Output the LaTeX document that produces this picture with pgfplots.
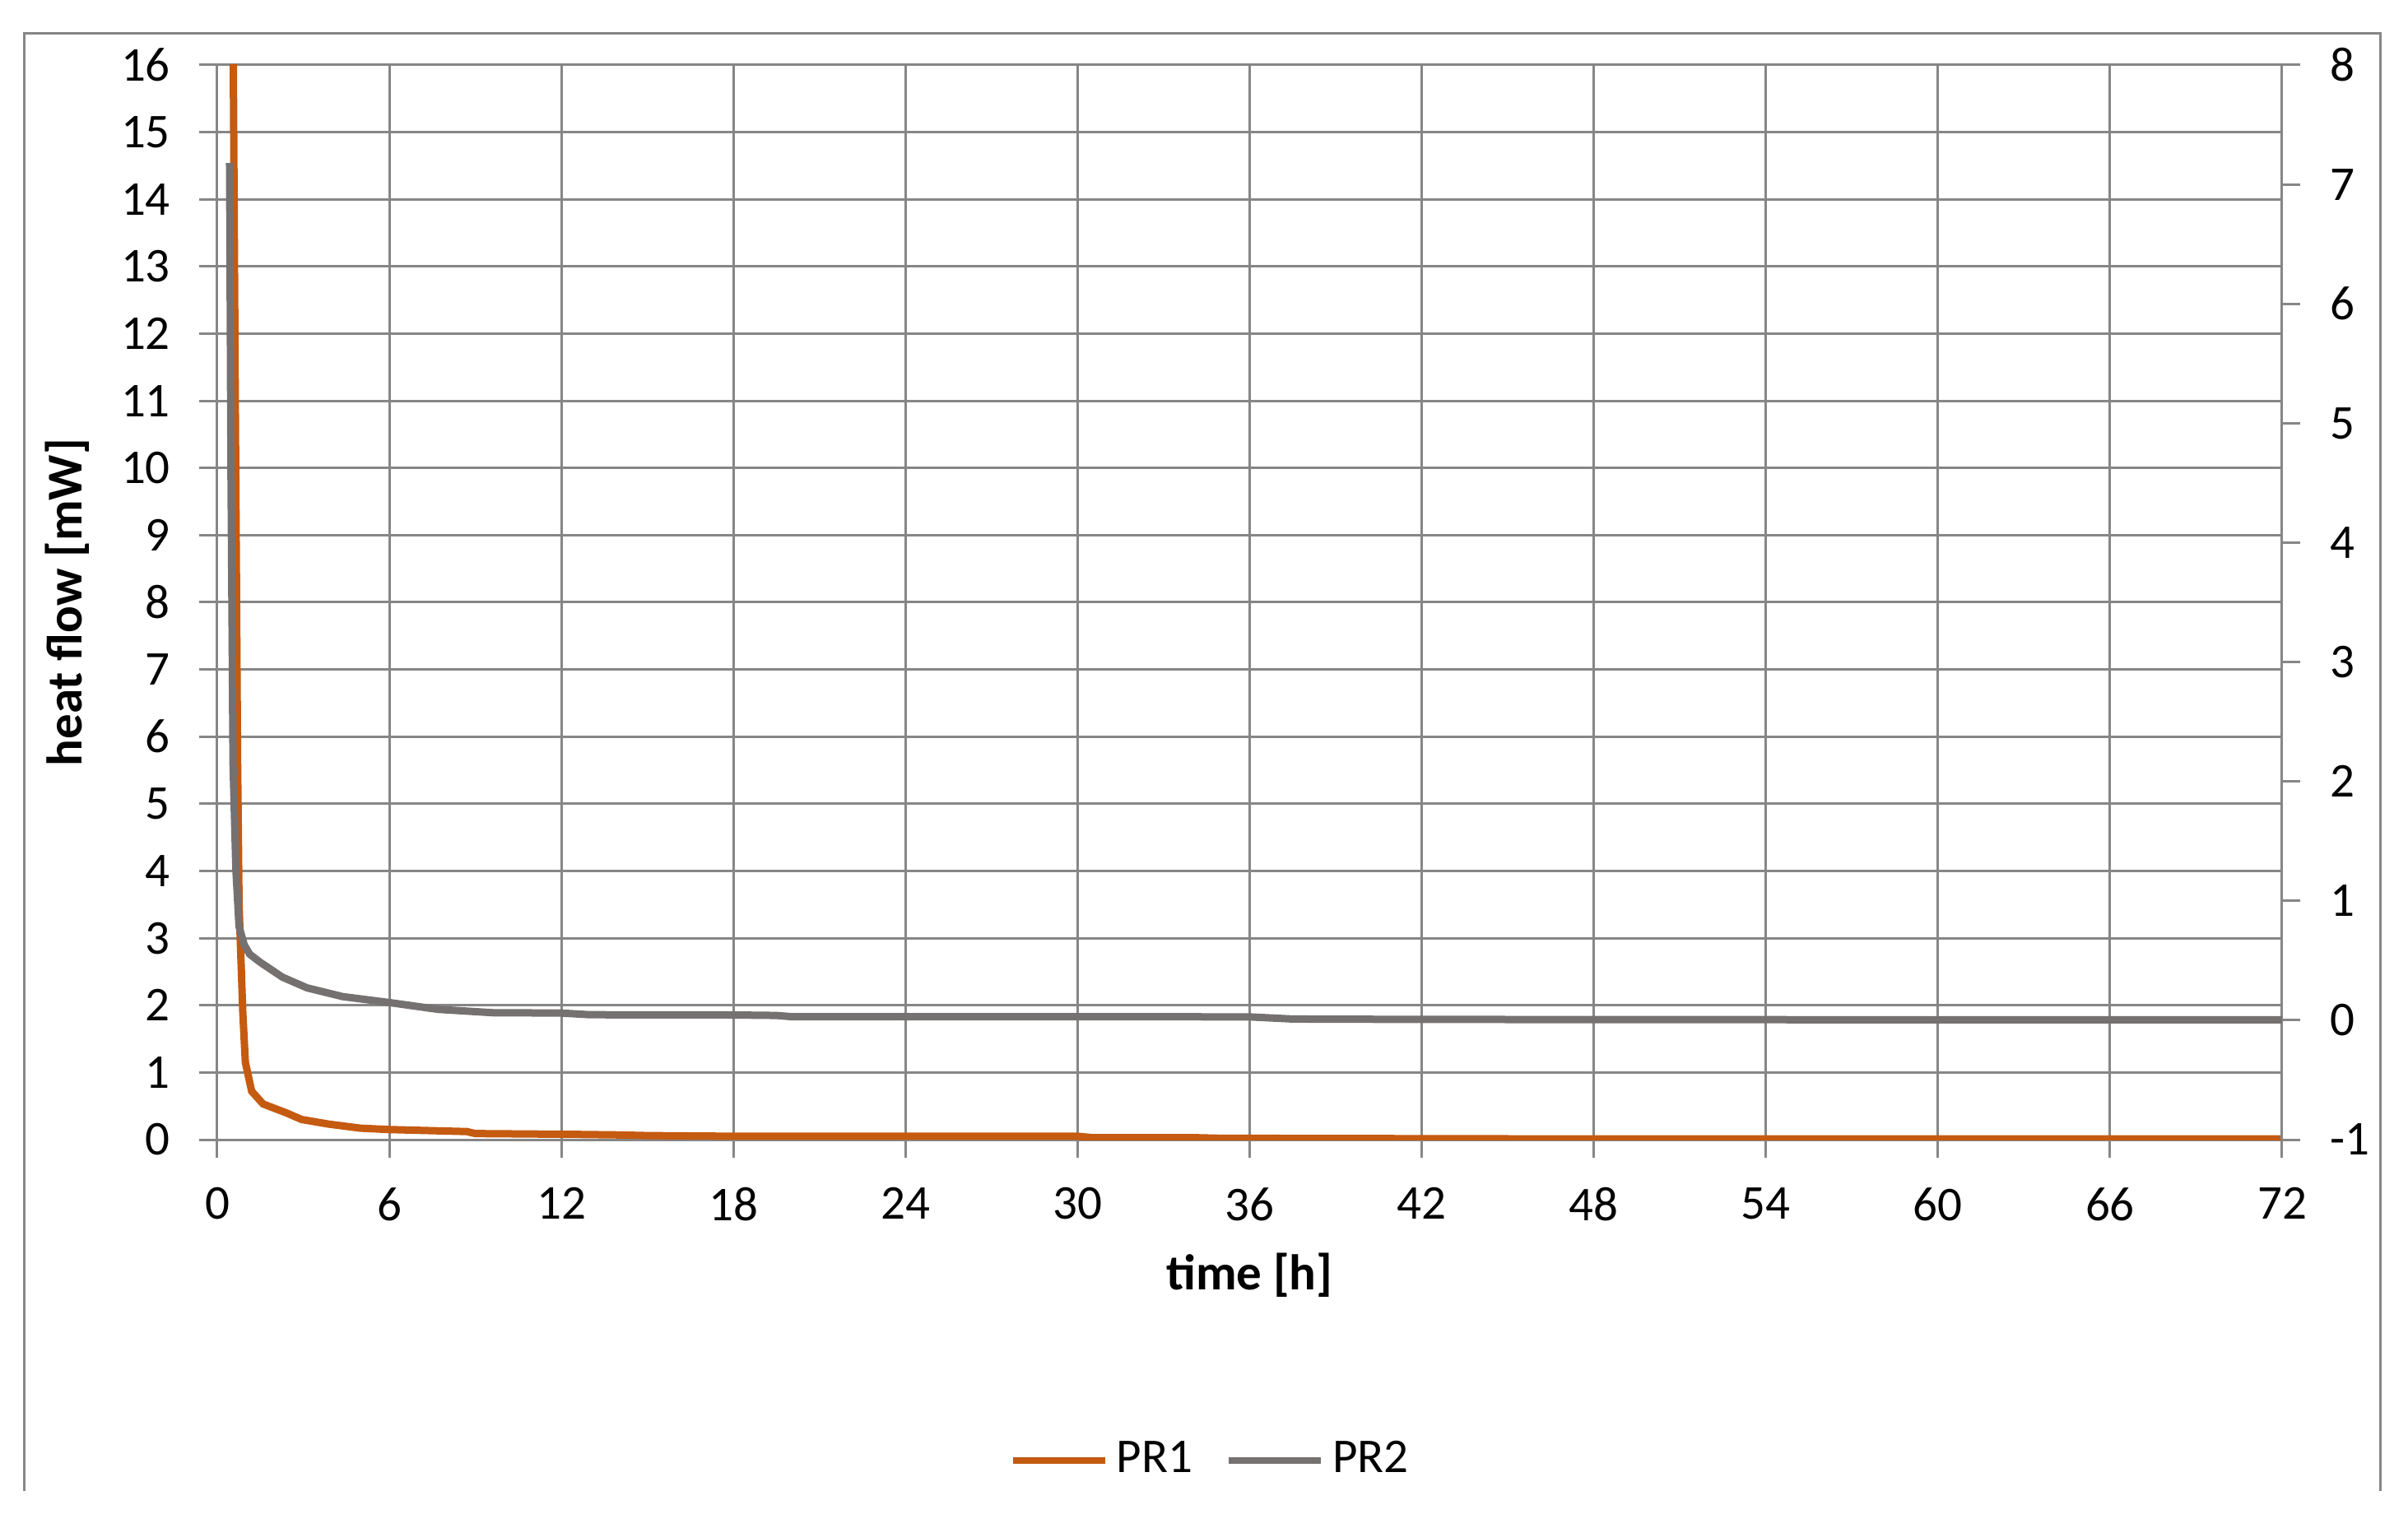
\documentclass[border=0pt]{standalone}
\usepackage{fontspec}
\setmainfont{Carlito}
\usepackage{pgfplots}
\pgfplotsset{compat=1.18}
\definecolor{pr1}{RGB}{197,90,17}
\definecolor{pr2}{RGB}{118,113,113}
\definecolor{gridgray}{RGB}{134,134,134}

\newcommand{\chfont}{\fontsize{11.8}{13}\selectfont}
\newcommand{\lbfont}{\fontsize{12.2}{14}\selectfont}

\pgfplotsset{
  hf/.style={
    scale only axis,
    width=501.8pt, height=261.2pt,
    xmin=0, xmax=72,
    clip=true,
    axis line style={gridgray, line width=0.6pt},
    tick style={gridgray, line width=0.6pt},
    major tick length=4.4pt,
    tick align=outside,
    tick label style={font=\chfont, text=black},
    /pgf/number format/assume math mode=true,
  }
}

\begin{document}
\begin{tikzpicture}
\begin{axis}[hf,
  ymin=0, ymax=16,
  xtick={0,6,...,72},
  ytick={0,1,...,16},
  xtick pos=bottom, ytick pos=left,
  grid=major,
  grid style={gridgray, line width=0.6pt},
  yticklabel style={xshift=-3.5pt},
  xticklabel style={yshift=-3.7pt},
  xlabel={\textbf{time [h]}},
  ylabel={\textbf{heat flow [mW]}},
  label style={font=\lbfont},
  xlabel style={yshift=-1pt},
  ylabel style={yshift=0.9pt},
]
\addplot[pr1, line width=1.8pt] coordinates {
  (0.55,20) (0.56,16) (0.63,10.9) (0.71,5.6) (0.76,3.5) (0.89,1.9)
  (0.98,1.15) (1.2,0.72) (1.6,0.53) (2.4,0.40) (2.94,0.30) (3.9,0.23)
  (5.0,0.17) (6.0,0.15) (8.7,0.12) (9.0,0.09) (12,0.08) (14,0.07)
  (15,0.06) (18,0.05) (24,0.05) (30,0.05) (30.5,0.03) (34,0.03)
  (35,0.02) (48,0.01) (60,0.01) (72,0.01)
};
\end{axis}
\begin{axis}[hf,
  ymin=-1, ymax=8,
  ytick={-1,0,...,8},
  yticklabels={-1,0,1,2,3,4,5,6,7,8},
  axis x line=none,
  axis y line*=right,
  yticklabel style={xshift=3.7pt},
  legend columns=2,
  legend style={draw=none, fill=none, font=\chfont,
    at={(242pt,-77.9pt)}, anchor=center,
    /tikz/every even column/.append style={column sep=6pt}},
  legend image code/.code={\draw[#1, line width=1.6pt] (0pt,0pt) -- (22.4pt,0pt);},
]
\addlegendimage{pr1}
\addlegendentry{PR1}
\addplot[pr2, line width=1.8pt] coordinates {
  (0.43,7.179) (0.48,4.546) (0.55,2.156) (0.65,1.261) (0.76,0.783)
  (0.94,0.631) (1.13,0.553) (1.5,0.485) (2.27,0.361) (3.13,0.271)
  (4.37,0.198) (6.0,0.148) (7.7,0.091) (9.6,0.063) (12,0.060)
  (13,0.046) (18,0.044) (19.5,0.040) (20,0.030) (24,0.030)
  (30,0.030) (36,0.028) (37.5,0.010) (40,0.008) (48,0.005)
  (60,0.004) (72,0.004)
};
\addlegendentry{PR2}
\end{axis}
\draw[gridgray, line width=0.6pt] (-46.8pt,-85.4pt) -- (-46.8pt,268.8pt)
  -- (525.6pt,268.8pt) -- (525.6pt,-85.4pt);
\pgfresetboundingbox
\path[use as bounding box] (-52.8pt,-94.4pt) rectangle (532.4pt,277pt);
\end{tikzpicture}
\end{document}
